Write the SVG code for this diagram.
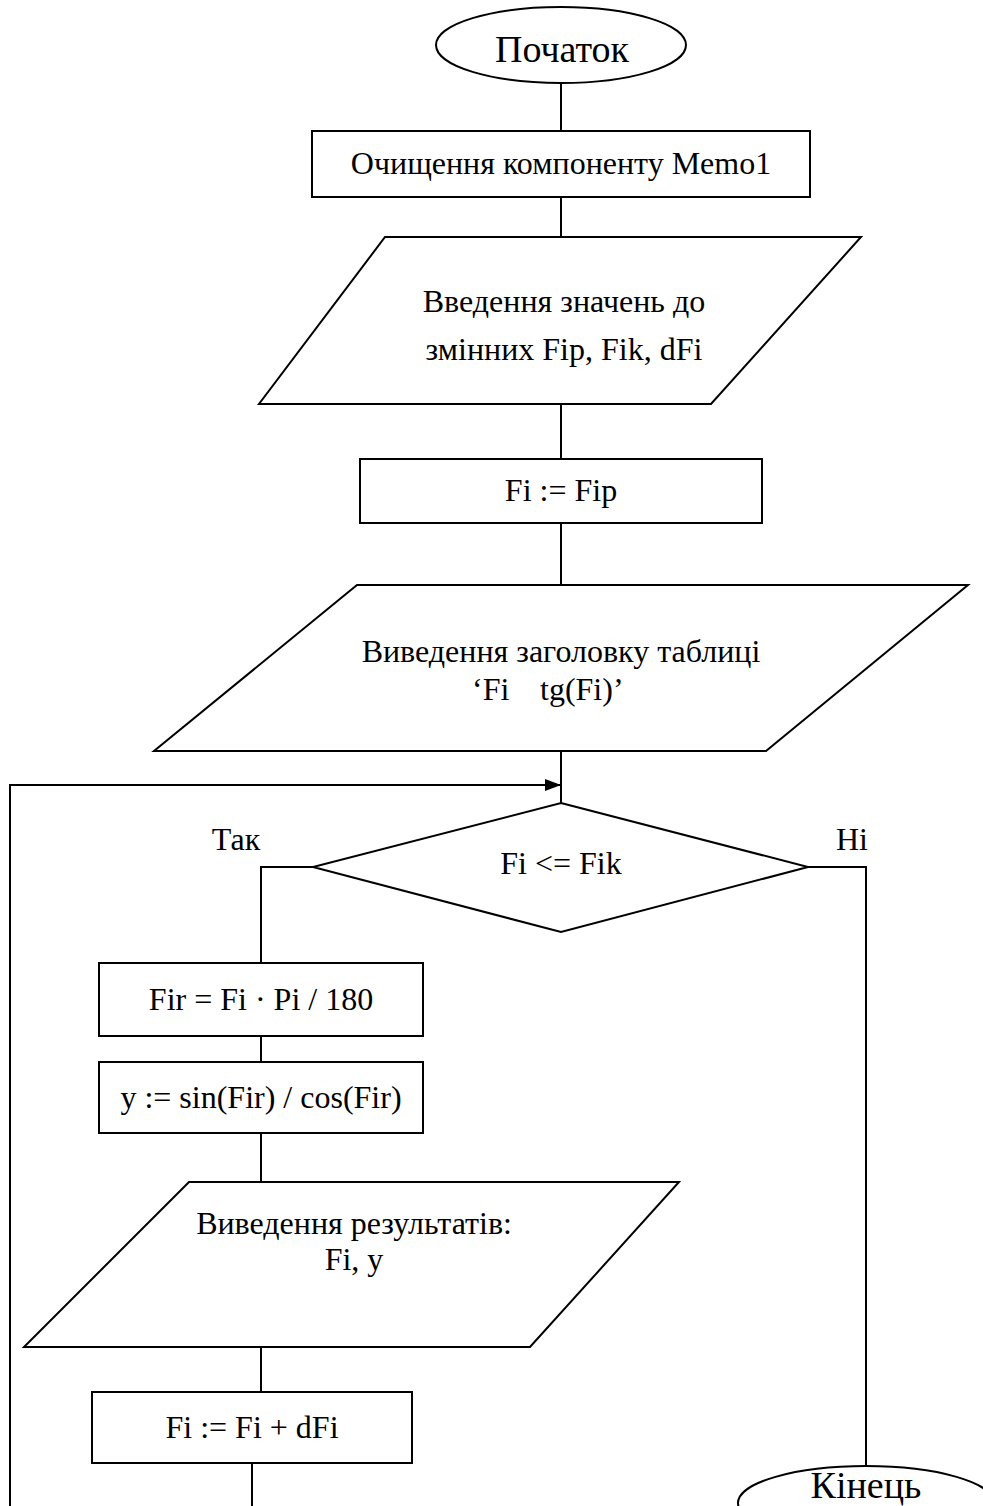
<svg xmlns="http://www.w3.org/2000/svg" width="983" height="1506" viewBox="0 0 983 1506">
<defs>
<style>
.s{fill:#fff;stroke:#000;stroke-width:2}
.c{fill:none;stroke:#000;stroke-width:2}
.t{font-family:"Liberation Serif","Times New Roman",serif;font-size:32px;fill:#000;text-anchor:middle}
.l{text-anchor:start}
.b{font-size:38px}
</style>
<marker id="ah" markerWidth="16" markerHeight="12" refX="16" refY="6" orient="auto" markerUnits="userSpaceOnUse">
<path d="M0,0 L16,6 L0,12 Z" fill="#000"/>
</marker>
</defs>
<rect width="983" height="1506" fill="#fff"/>
<g id="connectors">
<line class="c" x1="561" y1="83" x2="561" y2="131"/>
<line class="c" x1="561" y1="197" x2="561" y2="237"/>
<line class="c" x1="561" y1="404" x2="561" y2="459"/>
<line class="c" x1="561" y1="523" x2="561" y2="585"/>
<line class="c" x1="561" y1="751" x2="561" y2="803"/>
<polyline class="c" points="10,1506 10,785 561,785" marker-end="url(#ah)"/>
<polyline class="c" points="313,867 261,867 261,963"/>
<line class="c" x1="261" y1="1036" x2="261" y2="1062"/>
<line class="c" x1="261" y1="1133" x2="261" y2="1182"/>
<line class="c" x1="261" y1="1347" x2="261" y2="1392"/>
<line class="c" x1="252" y1="1463" x2="252" y2="1506"/>
<polyline class="c" points="808,867 866,867 866,1466"/>
</g>
<g id="start">
<ellipse class="s" cx="561" cy="45" rx="125" ry="38"/>
<text class="t b" x="562" y="62">Початок</text>
</g>
<g id="clear">
<rect class="s" x="312" y="131" width="498" height="66"/>
<text class="t" x="561" y="174">Очищення компоненту Memo1</text>
</g>
<g id="input">
<polygon class="s" points="385,237 861,237 711,404 259,404"/>
<text class="t" x="564" y="312">Введення значень до</text>
<text class="t" x="564" y="360">змінних Fip, Fik, dFi</text>
</g>
<g id="init">
<rect class="s" x="360" y="459" width="402" height="64"/>
<text class="t" x="561" y="501">Fi := Fip</text>
</g>
<g id="header">
<polygon class="s" points="357,585 968,585 766,751 154,751"/>
<text class="t" x="561" y="662">Виведення заголовку таблиці</text>
<text class="t l" x="472" y="700">‘Fi</text>
<text class="t l" x="540" y="700">tg(Fi)’</text>
</g>
<g id="cond">
<polygon class="s" points="561,803 808,867 561,932 313,867"/>
<text class="t" x="561" y="874">Fi &lt;= Fik</text>
<text class="t" x="236" y="850">Так</text>
<text class="t" x="852" y="850">Ні</text>
</g>
<g id="fir">
<rect class="s" x="99" y="963" width="324" height="73"/>
<text class="t" x="261" y="1010">Fir = Fi · Pi / 180</text>
</g>
<g id="calc">
<rect class="s" x="99" y="1062" width="324" height="71"/>
<text class="t" x="261" y="1108">y := sin(Fir) / cos(Fir)</text>
</g>
<g id="output">
<polygon class="s" points="189,1182 679,1182 530,1347 24,1347"/>
<text class="t" x="354" y="1234">Виведення результатів:</text>
<text class="t" x="354" y="1270">Fi, y</text>
</g>
<g id="inc">
<rect class="s" x="92" y="1392" width="320" height="71"/>
<text class="t" x="252" y="1438">Fi := Fi + dFi</text>
</g>
<g id="end">
<ellipse class="s" cx="866" cy="1503" rx="128" ry="37"/>
<text class="t b" x="866" y="1498">Кінець</text>
</g>
</svg>
